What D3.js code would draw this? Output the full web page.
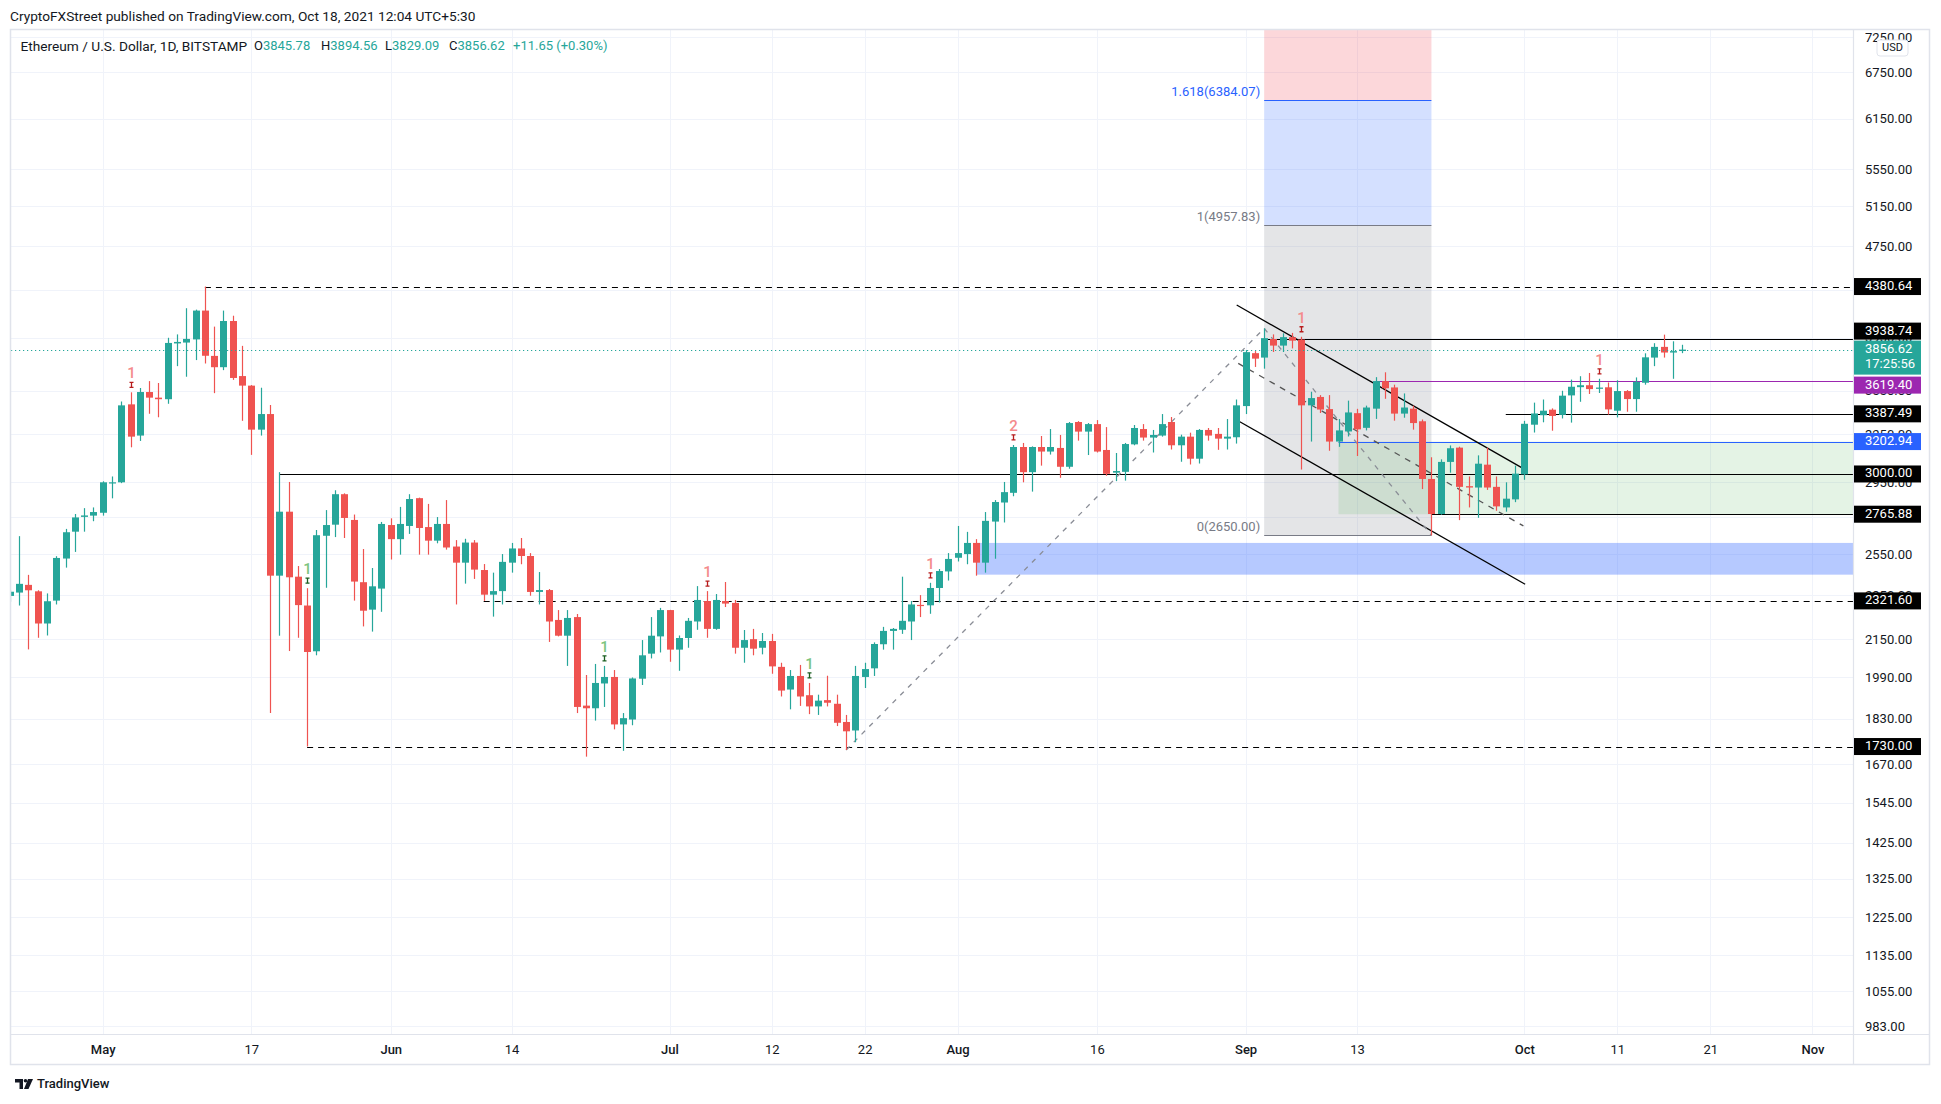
<!DOCTYPE html>
<html><head><meta charset="utf-8">
<script src="https://cdn.jsdelivr.net/npm/d3@7"></script>
<style>
body{margin:0;background:#fff;}
svg{display:block;font-family:Roboto,"Noto Sans",sans-serif;}
</style></head><body>
<svg id="c" width="1941" height="1104"></svg>
<script>
// ---------------- DATA ----------------
const startDate = "2021-04-21";
const opens = [2345,2361,2398,2367,2218,2323,2529,2670,2751,2758,
2774,2946,2950,3453,3242,3540,3500,3489,3905,3912,
3937,4173,3808,3722,4086,3656,3586,3281,3386,2443,
2780,2438,2300,2097,2648,2708,2880,2734,2411,2281,2380,
2706,2630,2701,2857,2695,2622,2712,2591,2508,2612,
2471,2351,2368,2508,2581,2542,2364,2373,2234,2164,
2247,1879,1869,1965,1991,1809,1827,1984,2087,2161,
2279,2104,2154,2227,2321,2194,2321,2312,2112,2149,
2112,2141,2032,1941,1995,1919,1876,1900,1886,1818,
1787,1991,2026,2127,2185,2190,2227,2303,2301,2383,2464,
2533,2552,2610,2508,2725,2832,2888,3168,3011,3168,
3139,3162,3044,3332,3268,3318,3149,3008,3013,3185,
3285,3229,3242,3332,3179,3235,3094,3279,3253,3222,3231,
3441,3829,3795,3940,3888,3955,3936,3446,3505,3420,
3203,3269,3392,3293,3423,3619,3573,3389,3423,3337,
2970,2767,3074,3164,2927,2919,3057,2923,2804,2850,
2998,3314,3378,3416,3380,3516,3575,3589,3563,3574,
3409,3547,3490,3607,3795,3878,3834,3845.78];
const highs = [2372,2646,2447,2372,2357,2541,2685,2767,2800,2804,
2956,2985,3473,3538,3569,3619,3605,3950,3977,4193,
4181,4380.64,4040,4173,4130,3886,3590,3571,3449,3011,
2952,2491,2382,2679,2789,2903,2885,2764,2578,2481,2723,
2743,2807,2880,2860,2824,2750,2846,2625,2632,2625,
2501,2458,2552,2610,2636,2557,2461,2378,2279,2279,
2261,1999,2044,2036,2019,1851,1989,2145,2247,2289,
2280,2165,2243,2392,2368,2354,2412,2326,2189,2194,
2176,2172,2049,2019,2040,1967,1921,1996,1921,1844,
2036,2049,2135,2203,2198,2438,2321,2349,2408,2476,2557,
2701,2669,2630,2778,2846,2952,3181,3194,3172,3239,
3285,3246,3332,3338,3325,3345,3298,3130,3194,3312,
3318,3279,3386,3366,3248,3261,3285,3292,3292,3352,3487,
3853,3845,4025.83,3977,3986,3989,3958,3542,3518,3518,
3352,3479,3422,3444,3648,3684,3593,3530,3444,3349,
3103,3090,3178,3170,2985,3115,3164,2985,2950,3051,
3340,3465,3487,3425,3549,3630,3655,3679,3636,3609,
3625,3554,3646,3828,3907,3975,3922,3894.56];
const lows = [2318,2300,2105,2155,2165,2305,2483,2563,2670,2727,
2758,2856,2945,3166,3207,3388,3364,3457,3730,3651,
3776,3750,3532,3700,3628,3340,3118,3242,1851,2164,
2098,2155,1730,2080,2384,2641,2636,2323,2205,2182,2271,
2524,2549,2658,2549,2549,2608,2575,2305,2404,2427,
2321.6,2249,2305,2458,2500,2346,2305,2137,2161,2036,
1851,1695,1823,1874,1791,1715,1806,1959,2067,2092,
2053,2016,2112,2190,2155,2190,2293,2087,2049,2080,
2084,2004,1914,1865,1878,1847,1844,1876,1803,1718,
1745,1947,1995,2104,2104,2172,2145,2247,2262,2314,2419,
2514,2500,2443,2458,2528,2720,2868,2950,2895,3051,
3120,2977,3032,3209,3117,3133,2989,2957,2960,3179,
3209,3133,3235,3152,3075,3058,3064,3209,3150,3152,3190,
3386,3724,3711,3838,3838,3866,3027,3203,3393,3144,
3169,3236,3111,3276,3353,3492,3341,3361,3281,2910,
2650,2763,3008,2733,2804,2746,2905,2785,2780,2834,
2965,3262,3330,3274,3356,3328,3471,3526,3533,3382,
3363,3402,3402,3593,3730,3795,3636,3829.09];
const closes = [2365,2403,2372,2218,2320,2532,2667,2748,2759,2778,
2950,2950,3446,3235,3540,3500,3489,3909,3917,3941,
4173,3809,3722,4086,3642,3586,3281,3386,2443,2780,
2435,2302,2094,2651,2706,2880,2745,2414,2276,2391,2712,
2630,2712,2852,2690,2622,2712,2586,2508,2612,2473,
2351,2368,2512,2581,2542,2364,2373,2227,2164,2243,
1874,1869,1967,1991,1809,1832,1985,2080,2164,2279,
2104,2154,2230,2326,2194,2326,2309,2112,2145,2108,
2141,2034,1937,1995,1914,1876,1898,1890,1815,1784,
1995,2023,2128,2185,2194,2230,2305,2298,2383,2466,2527,
2557,2610,2508,2729,2835,2892,3168,3011,3168,3139,
3168,3044,3325,3268,3318,3139,3001,3018,3187,3292,
3229,3246,3318,3179,3235,3094,3279,3242,3222,3235,3446,
3837,3787,3947,3888,3955,3927,3446,3497,3417,3203,
3276,3397,3283,3431,3619,3567,3389,3431,3325,2970,
2767,3074,3160,2923,2919,3063,2919,2810,2854,3002,
3320,3390,3409,3373,3514,3578,3589,3561,3572,3418,
3547,3490,3614,3797,3878,3834,3844.97,3856.62];

const priceTicks = [7250,6750,6150,5550,5150,4750,4350,3950,3550,3250,2950,2750,2550,2350,2150,1990,1830,1670,1545,1425,1325,1225,1135,1055,983];
const timeTicks = ["2021-05-01","2021-05-17","2021-06-01","2021-06-14","2021-07-01","2021-07-12","2021-07-22","2021-08-01","2021-08-16","2021-09-01","2021-09-13","2021-10-01","2021-10-11","2021-10-21","2021-11-01"];

// horizontal levels
const levelPrices = [4380.64,3938.74,3619.40,3387.49,3202.94,3000.00,2765.88,2321.60,1730.00];
const levelStarts = ["2021-05-12","2021-09-03","2021-09-15","2021-09-29","2021-09-11","2021-05-20","2021-09-21","2021-06-11","2021-05-23"];

// zones
const zoneStarts = ["2021-08-03","2021-09-11"];
const zoneTops = [2610,3202.94];
const zoneBottoms = [2448,2765.88];

// trend-based fib extension anchors
const fibDates = ["2021-07-20","2021-09-03","2021-09-21"];
const fibPrices = [1718,4025.83,2650];
const fibLevels = [0,1,1.618,2.618];

// descending channel
const upperDates = ["2021-08-31T01:00Z","2021-09-30T17:00Z"];
const upperPrices = [4220,3039];
const lowerDates = ["2021-08-31T09:00Z","2021-10-01T02:00Z"];
const lowerPrices = [3334,2401];

// TD sequential counts
const tdDates = ["2021-05-04","2021-05-23","2021-06-24","2021-07-05","2021-07-16","2021-07-29","2021-08-07","2021-09-07","2021-10-09"];
const tdLabels = ["1","1","1","1","1","1","2","1","1"];
const tdSides = ["sell","buy","buy","sell","buy","sell","sell","sell","sell"];

// ---------------- LAYOUT / STYLE ----------------
const paneL=11, paneR=1853, paneT=30, paneB=1034, frameR=1929, frameB=1064;
const UP="#26a69a", DOWN="#ef5350", TXT="#131722", GRID="#f0f3fa", BORDER="#e0e3eb";
const levelLine = ["dash","solid","purple","solid","blue","solid","solid","dash","dash"];
const levelBg = {dash:"#000",solid:"#000",purple:"#9c27b0",blue:"#2962ff"};
const levelStroke = {dash:"#000",solid:"#000",purple:"#9c27b0",blue:"#2962ff"};

const parse = d3.utcParse("%Y-%m-%d");
const t0 = parse(startDate);
const candles = opens.map((o,i)=>({date:d3.utcDay.offset(t0,i),o,h:highs[i],l:lows[i],c:closes[i]}));

const x = d3.scaleUtc().domain([parse("2021-05-01"),parse("2021-11-01")]).range([102.7,1812.4]);
const y = d3.scaleLog().domain([983,7250]).range([1026.4,37.1]);

const svg = d3.select("#c");
svg.append("rect").attr("width",1941).attr("height",1104).attr("fill","#fff");

const defs = svg.append("defs");
defs.append("clipPath").attr("id","pane").append("rect")
  .attr("x",paneL).attr("y",paneT).attr("width",paneR-paneL).attr("height",paneB-paneT);

const pane = svg.append("g").attr("clip-path","url(#pane)");

// grid
pane.append("g").selectAll("line").data(priceTicks).join("line")
  .attr("x1",paneL).attr("x2",paneR)
  .attr("y1",d=>Math.round(y(d))+0.5).attr("y2",d=>Math.round(y(d))+0.5)
  .attr("stroke",GRID).attr("stroke-width",1);
pane.append("g").selectAll("line").data(timeTicks.map(parse)).join("line")
  .attr("y1",paneT).attr("y2",paneB)
  .attr("x1",d=>Math.round(x(d))+0.5).attr("x2",d=>Math.round(x(d))+0.5)
  .attr("stroke",GRID).attr("stroke-width",1);

// fib extension box
const fibA=fibPrices[0], fibB=fibPrices[1], fibC=fibPrices[2];
const fibLevelPrices = fibLevels.map(r=>fibC + r*(fibB-fibA));
const fx0 = x(parse(fibDates[1])), fx1 = x(parse(fibDates[2]));
const fibFills = ["rgba(120,123,134,0.2)","rgba(41,98,255,0.2)","rgba(242,54,69,0.2)"];
const fibLineCol = ["#787b86","#787b86","#2962ff","#f23645"];
for(let i=0;i<fibLevels.length-1;i++){
  pane.append("rect").attr("x",fx0).attr("width",fx1-fx0)
    .attr("y",y(fibLevelPrices[i+1])).attr("height",y(fibLevelPrices[i])-y(fibLevelPrices[i+1]))
    .attr("fill",fibFills[i]);
}

// zones
const zoneFill = ["rgba(41,98,255,0.34)","rgba(76,175,80,0.15)"];
zoneStarts.forEach((s,i)=>{
  pane.append("rect").attr("x",x(parse(s))).attr("width",paneR-x(parse(s)))
    .attr("y",y(zoneTops[i])).attr("height",y(zoneBottoms[i])-y(zoneTops[i]))
    .attr("fill",zoneFill[i]);
});

// fib lines + labels (only levels inside the visible price range)
fibLevels.forEach((r,i)=>{
  const yy = Math.round(y(fibLevelPrices[i]))+0.5;
  if (yy < paneT) return;
  pane.append("line").attr("x1",fx0).attr("x2",fx1).attr("y1",yy).attr("y2",yy)
    .attr("stroke",fibLineCol[i]).attr("stroke-width",1);
  pane.append("text").attr("x",fx0-4).attr("y",yy-8).attr("text-anchor","end")
    .attr("dominant-baseline","middle").attr("font-size",13)
    .attr("fill",i===2?"#2962ff":"#787b86")
    .text(`${r}(${fibLevelPrices[i].toFixed(2)})`);
});

// horizontal levels
levelPrices.forEach((p,i)=>{
  const yy = Math.round(y(p))+0.5;
  const k = levelLine[i];
  pane.append("line").attr("x1",x(parse(levelStarts[i]))).attr("x2",paneR)
    .attr("y1",yy).attr("y2",yy).attr("stroke",levelStroke[k])
    .attr("stroke-width",1.2)
    .attr("stroke-dasharray",k==="dash"?"6,5":null);
});

// channel
const up = upperDates.map((d,i)=>[x(d3.isoParse(d)),y(upperPrices[i])]);
const lo = lowerDates.map((d,i)=>[x(d3.isoParse(d)),y(lowerPrices[i])]);
const mid = [0,1].map(j=>[(up[j][0]+lo[j][0])/2,(up[j][1]+lo[j][1])/2]);
const line = d3.line();
pane.append("path").attr("d",line(up)).attr("stroke","#000").attr("stroke-width",1.3).attr("fill","none");
pane.append("path").attr("d",line(lo)).attr("stroke","#000").attr("stroke-width",1.3).attr("fill","none");
pane.append("path").attr("d",line(mid)).attr("stroke","#555").attr("stroke-width",1.3)
  .attr("stroke-dasharray","6,6").attr("fill","none");

// fib anchor dashed path
const fibPts = fibDates.map((d,i)=>[x(parse(d)),y(fibPrices[i])]);
pane.append("path").attr("d",line(fibPts)).attr("stroke","#8a8d96").attr("stroke-width",1.3)
  .attr("stroke-dasharray","5,6").attr("fill","none");

// candles
const cg = pane.append("g").selectAll("g").data(candles).join("g");
cg.append("line")
  .attr("x1",d=>Math.round(x(d.date))+0.5).attr("x2",d=>Math.round(x(d.date))+0.5)
  .attr("y1",d=>y(d.h)).attr("y2",d=>y(d.l))
  .attr("stroke",d=>d.c>=d.o?UP:DOWN).attr("stroke-width",1.2);
cg.append("rect")
  .attr("x",d=>Math.round(x(d.date))-3).attr("width",7)
  .attr("y",d=>y(Math.max(d.o,d.c)))
  .attr("height",d=>Math.max(1.2,Math.abs(y(d.o)-y(d.c))))
  .attr("fill",d=>d.c>=d.o?UP:DOWN);

// TD counts
const byDate = new Map(candles.map(c=>[+c.date,c]));
tdDates.forEach((d,i)=>{
  const c = byDate.get(+parse(d));
  const cx = Math.round(x(c.date))+0.5, yh = y(c.h);
  const sell = tdSides[i]==="sell";
  pane.append("text").attr("x",cx).attr("y",yh-18).attr("text-anchor","middle")
    .attr("dominant-baseline","middle").attr("font-size",15).attr("font-weight",500)
    .attr("fill",sell?"#f48a8c":"#7cc47f").text(tdLabels[i]);
  pane.append("path").attr("d",`M${cx-2},${yh-10}h4M${cx},${yh-10}v5M${cx-2},${yh-5}h4`)
    .attr("stroke",sell?"#b71c1c":"#1b5e20").attr("stroke-width",1.3).attr("fill","none");
});

// current price dotted line
const last = candles[candles.length-1];
const prev = candles[candles.length-2];
pane.append("line").attr("x1",paneL).attr("x2",paneR)
  .attr("y1",Math.round(y(last.c))+0.5).attr("y2",Math.round(y(last.c))+0.5)
  .attr("stroke",UP).attr("stroke-width",1.2).attr("stroke-dasharray","1.2,2.8");

// frame
svg.append("rect").attr("x",paneL-0.5).attr("y",paneT-0.5).attr("width",frameR-paneL+1).attr("height",frameB-paneT+1)
  .attr("fill","none").attr("stroke",BORDER).attr("stroke-width",1.5);
svg.append("line").attr("x1",paneR+0.5).attr("x2",paneR+0.5).attr("y1",paneT).attr("y2",frameB).attr("stroke",BORDER).attr("stroke-width",1.2);
svg.append("line").attr("x1",paneL).attr("x2",frameR).attr("y1",paneB+0.5).attr("y2",paneB+0.5).attr("stroke",BORDER).attr("stroke-width",1.2);

// right axis
const ya = svg.append("g").attr("transform",`translate(${paneR},0)`)
  .call(d3.axisRight(y).tickValues(priceTicks).tickFormat(d3.format(".2f")).tickSize(0).tickPadding(12));
ya.select(".domain").remove();
ya.selectAll("text").attr("font-size",13).attr("fill",TXT).attr("font-family","Roboto,sans-serif");

// axis price labels, with simple collision avoidance around the live-price label
const curY = y(last.c), curTop = curY-9, curBot = curY+25;
levelPrices.forEach((p,i)=>{
  let yy = y(p);
  if (yy+8.5 > curTop && yy-8.5 < curBot) {
    yy = (yy < curY) ? curTop-9.5 : curBot+10.5;
  }
  svg.append("rect").attr("x",paneR+1).attr("y",yy-8.5).attr("width",67).attr("height",17)
    .attr("fill",levelBg[levelLine[i]]);
  svg.append("text").attr("x",paneR+12).attr("y",yy).attr("dominant-baseline","middle")
    .attr("font-size",13).attr("fill","#fff").text(p.toFixed(2));
});
svg.append("rect").attr("x",paneR+1).attr("y",curTop).attr("width",67).attr("height",curBot-curTop).attr("fill",UP);
svg.append("text").attr("x",paneR+12).attr("y",curY).attr("dominant-baseline","middle")
  .attr("font-size",13).attr("fill","#fff").text(last.c.toFixed(2));
svg.append("text").attr("x",paneR+12).attr("y",curY+15).attr("dominant-baseline","middle")
  .attr("font-size",13).attr("fill","#fff").text("17:25:56");

// USD badge
svg.append("rect").attr("x",1877).attr("y",40).attr("width",31).attr("height",16).attr("rx",3)
  .attr("fill","#fff").attr("stroke",BORDER);
svg.append("text").attr("x",1892.5).attr("y",48.5).attr("text-anchor","middle").attr("dominant-baseline","middle")
  .attr("font-size",11).attr("fill",TXT).text("USD");

// bottom axis
const xa = svg.append("g").attr("transform",`translate(0,${paneB})`)
  .call(d3.axisBottom(x).tickValues(timeTicks.map(parse))
    .tickFormat(d=>d.getUTCDate()===1?d3.utcFormat("%b")(d):d3.utcFormat("%-d")(d))
    .tickSize(0).tickPadding(11));
xa.select(".domain").remove();
xa.selectAll("text").attr("font-size",13).attr("fill",TXT).attr("font-family","Roboto,sans-serif")
  .attr("font-weight",d=>d.getUTCDate()===1?500:400);

// header
svg.append("text").attr("x",10).attr("y",17).attr("dominant-baseline","middle")
  .attr("font-size",13.7).attr("fill",TXT)
  .text("CryptoFXStreet published on TradingView.com, Oct 18, 2021 12:04 UTC+5:30");

// legend
svg.append("text").attr("x",20.5).attr("y",47).attr("dominant-baseline","middle")
  .attr("font-size",13.7).attr("fill",TXT).text("Ethereum / U.S. Dollar, 1D, BITSTAMP");
const legItems = [["O",last.o],["H",last.h],["L",last.l],["C",last.c]];
const legX = [254,321,385,449];
legItems.forEach((it,i)=>{
  const t = svg.append("text").attr("x",legX[i]).attr("y",47).attr("dominant-baseline","middle").attr("font-size",13);
  t.append("tspan").attr("fill",TXT).text(it[0]);
  t.append("tspan").attr("fill",UP).text(it[1].toFixed(2));
});
const chg = last.c - prev.c;
svg.append("text").attr("x",513).attr("y",47).attr("dominant-baseline","middle").attr("font-size",13)
  .attr("fill",UP).text(`${chg>=0?"+":""}${chg.toFixed(2)} (${chg>=0?"+":""}${(chg/prev.c*100).toFixed(2)}%)`);

// TradingView logo
const lg = svg.append("g");
lg.append("path").attr("d","M15,1079h8v10h-3.5v-6.5H15z").attr("fill",TXT);
lg.append("circle").attr("cx",25.5).attr("cy",1080.8).attr("r",1.8).attr("fill",TXT);
lg.append("path").attr("d","M28,1079h5l-4.5,10h-4.5z").attr("fill",TXT);
lg.append("text").attr("x",37).attr("y",1084.5).attr("dominant-baseline","middle").attr("font-size",13)
  .attr("font-weight",500).attr("fill",TXT).text("TradingView");
</script>
</body></html>
